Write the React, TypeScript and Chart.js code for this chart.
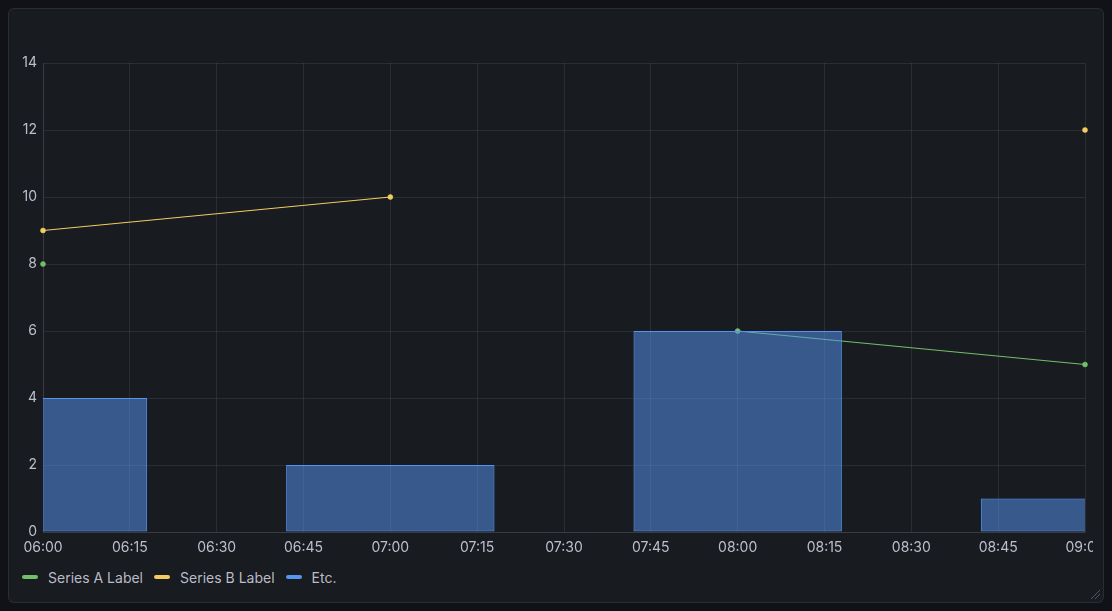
import React, { useEffect, useRef } from "react";
import { Chart, registerables } from "chart.js";

Chart.register(...registerables);

// ---- data ----
const startHour = 6; // 06:00
const timesMin = [0, 60, 120, 180]; // minutes after 06:00
const seriesAName = "Series A Label";
const seriesBName = "Series B Label";
const seriesCName = "Etc.";
const seriesA: (number | null)[] = [8, null, 6, 5];
const seriesB: (number | null)[] = [9, 10, null, 12];
const seriesC: number[] = [4, 2, 6, 1];
const barWidthMinutes = 36;
const xMin = 0;
const xMax = 180;
const xStep = 15;
const yMin = 0;
const yMax = 14;
const yStep = 2;

// ---- style ----
const GREEN = "#73bf69";
const YELLOW = "#f2cc60";
const BLUE = "#5794f2";
const BAR_FILL = "rgba(87,148,242,0.52)";
const TEXT = "rgba(204,204,220,0.92)";
const GRID = "rgba(204,204,220,0.10)";
const PANEL_BG = "#181b1f";
const PAGE_BG = "#111217";
const FONT = "Inter, 'Noto Sans', sans-serif";

const fmtTime = (v: number) => {
  const total = startHour * 60 + v;
  const h = Math.floor(total / 60);
  const m = total % 60;
  return String(h).padStart(2, "0") + ":" + String(m).padStart(2, "0");
};

const legendItems = [
  { name: seriesAName, color: GREEN },
  { name: seriesBName, color: YELLOW },
  { name: seriesCName, color: BLUE },
];

export default function App() {
  const canvasRef = useRef<HTMLCanvasElement | null>(null);

  useEffect(() => {
    document.body.style.background = PAGE_BG;
    document.documentElement.style.background = PAGE_BG;
    const canvas = canvasRef.current;
    if (!canvas) return;
    const toPts = (arr: (number | null)[]) => arr.map((y, i) => ({ x: timesMin[i], y }));
    const lineStyle = (color: string) => ({
      borderColor: color,
      backgroundColor: color,
      borderWidth: 1.25,
      pointRadius: 2.5,
      pointBorderWidth: 0.5,
      pointBackgroundColor: color,
      pointBorderColor: color,
      spanGaps: false,
      order: 1,
      clip: false as any,
    });
    const chart = new Chart(canvas, {
      type: "bar",
      data: {
        datasets: [
          {
            type: "line",
            label: seriesAName,
            data: toPts(seriesA) as any,
            ...lineStyle(GREEN),
          },
          {
            type: "line",
            label: seriesBName,
            data: toPts(seriesB) as any,
            ...lineStyle(YELLOW),
          },
          {
            type: "bar",
            label: seriesCName,
            data: toPts(seriesC) as any,
            backgroundColor: BAR_FILL,
            borderColor: BLUE,
            borderWidth: 1,
            borderSkipped: false,
            // the bar ruler uses the tick spacing (xStep) as its unit
            barPercentage: barWidthMinutes / xStep,
            categoryPercentage: 1,
            order: 0,
            clip: 0 as any,
          },
        ],
      },
      options: {
        animation: false,
        responsive: false,
        maintainAspectRatio: false,
        layout: { padding: { left: 0, right: 8, top: 13, bottom: 0 } },
        plugins: {
          legend: { display: false },
          tooltip: { enabled: false },
        },
        scales: {
          x: {
            type: "linear",
            min: xMin,
            max: xMax,
            offset: false,
            grid: { color: GRID, drawTicks: false, offset: false },
            border: { color: GRID },
            ticks: {
              stepSize: xStep,
              color: TEXT,
              font: { family: FONT, size: 14 },
              padding: 7,
              maxRotation: 0,
              autoSkip: false,
              callback: (v: any) => fmtTime(Number(v)),
            },
            afterFit: (s: any) => {
              s.height = 30;
              s.paddingLeft = 0;
              s.paddingRight = 0;
            },
          },
          y: {
            min: yMin,
            max: yMax,
            grid: { color: GRID, drawTicks: false },
            border: { color: GRID },
            ticks: {
              stepSize: yStep,
              color: TEXT,
              font: { family: FONT, size: 14 },
              padding: 6,
            },
            afterFit: (s: any) => {
              s.width = 27;
              s.paddingTop = 0;
              s.paddingBottom = 0;
            },
          },
        },
      } as any,
    });
    return () => chart.destroy();
  }, []);

  return (
    <div
      style={{
        position: "relative",
        width: 1096,
        height: 595,
        boxSizing: "border-box",
        background: PANEL_BG,
        border: "1px solid rgba(204,204,220,0.10)",
        borderRadius: 6,
        fontFamily: FONT,
        overflow: "hidden",
      }}
    >
      <div
        style={{
          position: "absolute",
          left: 7,
          top: 41,
          width: 1077,
          height: 512,
          overflow: "hidden",
        }}
      >
        <canvas ref={canvasRef} width={1077} height={512} style={{ display: "block", width: 1077, height: 512 }} />
      </div>
      <div
        style={{
          position: "absolute",
          left: 13,
          top: 558,
          height: 20,
          display: "flex",
          alignItems: "center",
          color: TEXT,
          fontSize: 14,
          whiteSpace: "nowrap",
        }}
      >
        {legendItems.map((it) => (
          <div key={it.name} style={{ display: "flex", alignItems: "center", marginRight: 11 }}>
            <span
              style={{
                display: "inline-block",
                width: 16,
                height: 4,
                borderRadius: 2,
                background: it.color,
                marginRight: 10,
              }}
            />
            <span>{it.name}</span>
          </div>
        ))}
      </div>
      <svg
        width={12}
        height={12}
        style={{ position: "absolute", right: 2, bottom: 2 }}
        viewBox="0 0 12 12"
      >
        <line x1="2" y1="11" x2="11" y2="2" stroke="rgba(204,204,220,0.35)" strokeWidth="1" />
        <line x1="6" y1="11" x2="11" y2="6" stroke="rgba(204,204,220,0.35)" strokeWidth="1" />
      </svg>
    </div>
  );
}
